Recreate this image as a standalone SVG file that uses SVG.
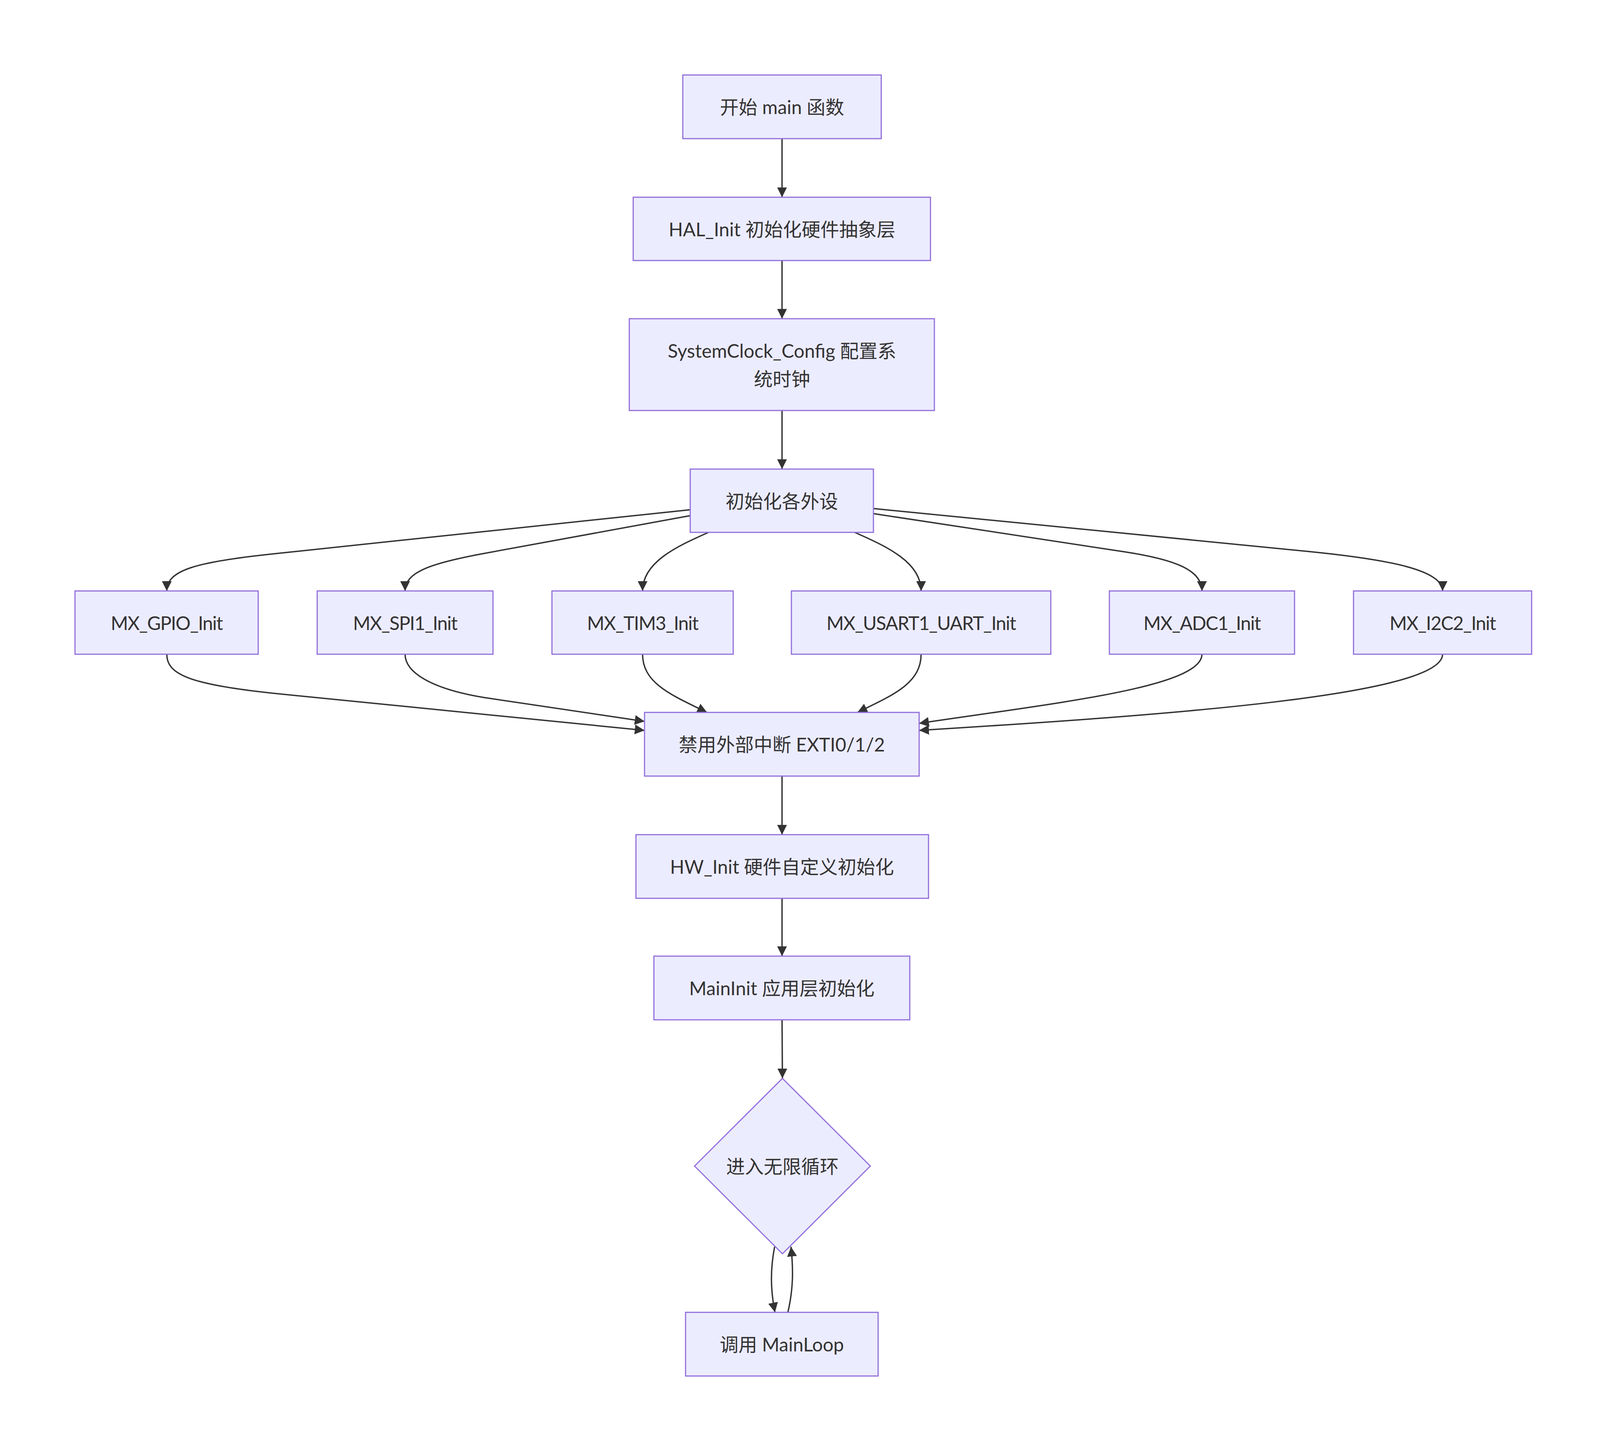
<svg xmlns="http://www.w3.org/2000/svg" width="4114" height="3715" viewBox="0 0 4114 3715">
<style>
.node rect, .node polygon { fill: #ECECFF; stroke: #9370DB; stroke-width: 3; }
.node text { font-family: "Lato", "Noto Sans CJK SC", sans-serif; font-size: 48px; fill: #333333; text-anchor: middle; dominant-baseline: central; }
.node text.caps { letter-spacing: -1.5px; }
.edge { fill: none; stroke: #333333; stroke-width: 3.5; marker-end: url(#arrow); }
</style>
<defs>
<marker id="arrow" viewBox="0 0 10 10" refX="10" refY="5" markerUnits="userSpaceOnUse" markerWidth="25" markerHeight="25" orient="auto">
<path d="M0,0 L10,5 L0,10 z" fill="#333333"/>
</marker>
</defs>
<rect width="4114" height="3715" fill="#ffffff"/>
<g id="connectors">
<path class="edge" d="M2002,355 L2002,505"/>
<path class="edge" d="M2002,667 L2002,816"/>
<path class="edge" d="M2002,1051 L2002,1201"/>
<path class="edge" d="M1768,1305 L700,1418 C500,1439 427,1460 427,1513"/>
<path class="edge" d="M1768,1320 L1250,1415 C1100,1442 1037,1465 1037,1513"/>
<path class="edge" d="M1814,1363 C1730,1400 1645,1440 1645,1513"/>
<path class="edge" d="M2188,1363 C2272,1400 2358,1440 2358,1513"/>
<path class="edge" d="M2236,1315 L2880,1413 C3010,1433 3077,1460 3077,1513"/>
<path class="edge" d="M2236,1302 L3350,1412 C3560,1433 3693,1460 3693,1513"/>
<path class="edge" d="M427,1675 C427,1725 480,1752 700,1775 L1650,1870"/>
<path class="edge" d="M1037,1675 C1037,1720 1100,1763 1240,1786 L1650,1847"/>
<path class="edge" d="M1645,1675 C1645,1750 1720,1780 1810,1824"/>
<path class="edge" d="M2358,1675 C2358,1750 2285,1780 2195,1824"/>
<path class="edge" d="M3077,1675 C3077,1760 2700,1800 2353,1852"/>
<path class="edge" d="M3693,1675 C3693,1780 3000,1830 2353,1870"/>
<path class="edge" d="M2002,1987 L2002,2137"/>
<path class="edge" d="M2002,2300 L2002,2448"/>
<path class="edge" d="M2002,2611 L2003,2761"/>
<path class="edge" d="M1983,3192 C1972,3250 1972,3300 1984,3360"/>
<path class="edge" d="M2017,3360 C2031,3300 2031,3250 2025,3192"/>
</g>
<g id="node-start" class="node">
<rect x="1748" y="192" width="508" height="163"/>
<text x="2002" y="273.5">开始 main 函数</text>
</g>
<g id="node-hal" class="node">
<rect x="1621" y="505" width="761" height="162"/>
<text x="2002" y="586">HAL_Init 初始化硬件抽象层</text>
</g>
<g id="node-clock" class="node">
<rect x="1611" y="816" width="781" height="235"/>
<text x="2002" y="897.5">SystemClock_Config 配置系</text>
<text x="2002" y="969.5">统时钟</text>
</g>
<g id="node-periph" class="node">
<rect x="1767" y="1201" width="469" height="162"/>
<text x="2001.5" y="1282">初始化各外设</text>
</g>
<g id="node-gpio" class="node">
<rect x="192" y="1513" width="469" height="162"/>
<text class="caps" x="426.5" y="1594">MX_GPIO_Init</text>
</g>
<g id="node-spi" class="node">
<rect x="812" y="1513" width="450" height="162"/>
<text class="caps" x="1037" y="1594">MX_SPI1_Init</text>
</g>
<g id="node-tim" class="node">
<rect x="1413" y="1513" width="464" height="162"/>
<text class="caps" x="1645" y="1594">MX_TIM3_Init</text>
</g>
<g id="node-usart" class="node">
<rect x="2026" y="1513" width="664" height="162"/>
<text class="caps" x="2358" y="1594">MX_USART1_UART_Init</text>
</g>
<g id="node-adc" class="node">
<rect x="2840" y="1513" width="474" height="162"/>
<text class="caps" x="3077" y="1594">MX_ADC1_Init</text>
</g>
<g id="node-i2c" class="node">
<rect x="3465" y="1513" width="456" height="162"/>
<text class="caps" x="3693" y="1594">MX_I2C2_Init</text>
</g>
<g id="node-exti" class="node">
<rect x="1650" y="1824" width="703" height="163"/>
<text x="2001.5" y="1905.5">禁用外部中断 EXTI0/1/2</text>
</g>
<g id="node-hw" class="node">
<rect x="1628" y="2137" width="749" height="163"/>
<text x="2002" y="2218.5">HW_Init 硬件自定义初始化</text>
</g>
<g id="node-maininit" class="node">
<rect x="1674" y="2448" width="655" height="163"/>
<text x="2001.5" y="2529.5">MainInit 应用层初始化</text>
</g>
<g id="node-loop" class="node">
<polygon points="2003,2761 2228,2985.5 2003,3210 1778,2985.5"/>
<text x="2003" y="2985.5">进入无限循环</text>
</g>
<g id="node-mainloop" class="node">
<rect x="1755" y="3360" width="493" height="163"/>
<text x="2001.5" y="3441.5">调用 MainLoop</text>
</g>
</svg>
